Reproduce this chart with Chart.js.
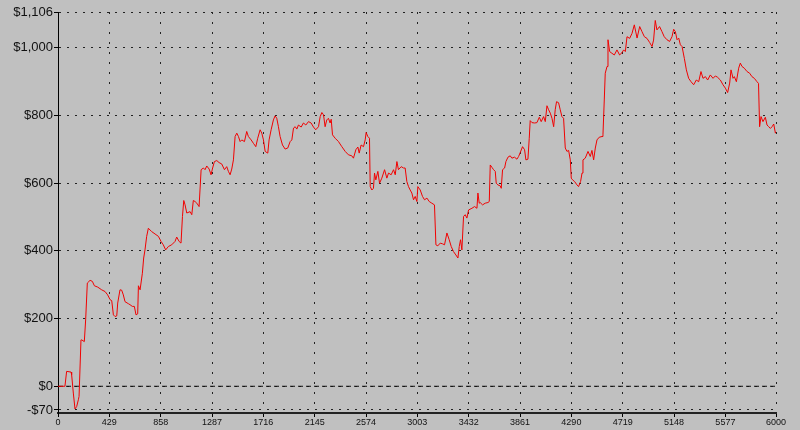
<!DOCTYPE html>
<html>
<head>
<meta charset="utf-8">
<title>Equity curve</title>
<script src="https://cdn.jsdelivr.net/npm/chart.js@4.4.0/dist/chart.umd.min.js"></script>
<style>
    html, body { margin: 0; padding: 0; background: #c0c0c0; }
    canvas { display: block; }
</style>
</head>
<body>
<canvas id="equityChart" width="800" height="430"></canvas>
<script>
// Trade number (x) and running equity in dollars (y)
const tradeNumbers = [
    0, 58, 72, 109, 114, 128, 142, 156, 170, 176, 192, 198, 220, 231, 245, 268, 287, 304, 332, 365,
    393, 415, 435, 449, 463, 477, 491, 499, 518, 532, 546, 560, 588, 602, 621, 638, 652, 666, 672, 686,
    705, 716, 727, 741, 755, 783, 811, 839, 861, 880, 900, 922, 950, 978, 992, 1012, 1028, 1040, 1051, 1062,
    1076, 1104, 1118, 1131, 1145, 1160, 1179, 1196, 1215, 1229, 1243, 1263, 1279, 1290, 1307, 1327, 1346, 1368, 1391, 1410,
    1424, 1438, 1452, 1466, 1480, 1494, 1508, 1522, 1536, 1558, 1577, 1591, 1614, 1633, 1653, 1669, 1689, 1703, 1717, 1731,
    1753, 1764, 1781, 1800, 1814, 1828, 1842, 1856, 1876, 1898, 1920, 1940, 1954, 1968, 1982, 1996, 2009, 2032, 2051, 2071,
    2093, 2115, 2135, 2154, 2177, 2191, 2205, 2219, 2232, 2246, 2260, 2274, 2283, 2294, 2316, 2344, 2372, 2400, 2427, 2455,
    2469, 2489, 2506, 2517, 2533, 2553, 2567, 2575, 2589, 2603, 2609, 2623, 2636, 2645, 2656, 2673, 2687, 2706, 2729, 2748,
    2762, 2784, 2804, 2818, 2832, 2845, 2868, 2887, 2901, 2915, 2929, 2943, 2957, 2971, 2985, 2999, 3007, 3027, 3046, 3063,
    3083, 3102, 3124, 3146, 3158, 3174, 3194, 3213, 3230, 3250, 3269, 3286, 3305, 3325, 3342, 3353, 3364, 3375, 3389, 3403,
    3417, 3431, 3459, 3481, 3501, 3509, 3520, 3528, 3548, 3570, 3593, 3604, 3612, 3626, 3640, 3654, 3662, 3676, 3696, 3704,
    3715, 3732, 3743, 3760, 3779, 3793, 3815, 3835, 3849, 3863, 3882, 3899, 3910, 3927, 3938, 3946, 3961, 3983, 4002, 4022,
    4038, 4058, 4072, 4086, 4100, 4114, 4128, 4142, 4155, 4166, 4183, 4197, 4211, 4225, 4239, 4253, 4267, 4281, 4289, 4300,
    4317, 4337, 4350, 4367, 4379, 4387, 4406, 4429, 4448, 4462, 4476, 4490, 4504, 4523, 4546, 4554, 4565, 4573, 4588, 4596,
    4610, 4629, 4649, 4671, 4693, 4713, 4727, 4741, 4755, 4777, 4797, 4816, 4839, 4861, 4880, 4900, 4922, 4944, 4964, 4977,
    4991, 5005, 5027, 5047, 5066, 5089, 5111, 5131, 5145, 5159, 5173, 5187, 5201, 5215, 5234, 5251, 5270, 5290, 5312, 5334,
    5354, 5373, 5390, 5410, 5429, 5451, 5474, 5493, 5512, 5535, 5557, 5577, 5596, 5613, 5624, 5641, 5652, 5669, 5688, 5702,
    5716, 5735, 5758, 5780, 5799, 5819, 5841, 5854, 5863, 5875, 5891, 5911, 5925, 5939, 5953, 5967, 5981, 5995, 6000
];
const equityValues = [
    0, 0, 44, 42, 34, -20, -67, -60, -40, -30, 137, 137, 132, 196, 305, 313, 310, 297, 293, 285,
    280, 270, 256, 253, 211, 206, 208, 246, 285, 284, 270, 250, 244, 241, 236, 236, 211, 214, 297, 285,
    334, 379, 403, 443, 467, 457, 450, 443, 428, 418, 403, 413, 418, 428, 441, 428, 423, 502, 549, 536,
    512, 516, 507, 549, 546, 541, 531, 640, 645, 640, 651, 642, 625, 642, 664, 667, 661, 657, 640, 649,
    635, 625, 642, 669, 738, 748, 738, 723, 728, 723, 753, 738, 728, 718, 708, 733, 758, 748, 728, 694,
    689, 728, 758, 787, 799, 792, 767, 738, 713, 701, 704, 723, 728, 763, 767, 760, 772, 766, 778, 772,
    782, 778, 766, 758, 767, 797, 809, 802, 767, 787, 792, 778, 789, 743, 733, 723, 708, 694, 684, 681,
    674, 699, 707, 689, 713, 708, 728, 750, 738, 733, 590, 580, 585, 630, 610, 635, 600, 615, 640, 615,
    630, 625, 640, 625, 664, 640, 649, 645, 645, 605, 590, 580, 571, 551, 561, 546, 590, 580, 561, 551,
    556, 546, 541, 536, 418, 415, 423, 421, 418, 453, 433, 413, 398, 388, 379, 413, 433, 403, 502, 507,
    497, 521, 526, 531, 526, 571, 541, 543, 536, 541, 543, 546, 654, 647, 640, 635, 600, 595, 592, 585,
    640, 645, 664, 677, 681, 674, 677, 671, 679, 691, 708, 699, 669, 671, 733, 785, 779, 778, 779, 795,
    782, 797, 782, 829, 817, 807, 792, 767, 817, 841, 838, 817, 797, 792, 704, 694, 697, 669, 615, 610,
    605, 595, 590, 605, 630, 669, 674, 694, 679, 697, 669, 704, 728, 736, 738, 743, 846, 925, 945, 1024,
    989, 984, 979, 994, 979, 986, 994, 989, 1033, 1028, 1043, 1068, 1029, 1063, 1048, 1033, 1028, 1016, 1004, 1023,
    1081, 1053, 1063, 1048, 1033, 1024, 1019, 1033, 1055, 1048, 1024, 1029, 1009, 1004, 969, 935, 910, 900, 891, 905,
    900, 930, 910, 915, 905, 920, 910, 917, 913, 905, 891, 881, 868, 896, 935, 910, 915, 900, 940, 955,
    945, 940, 930, 925, 915, 910, 900, 895, 767, 797, 782, 795, 772, 767, 762, 767, 775, 748, 752
];

// Axis tick labels as shown on the chart
const xTickValues = [0, 429, 858, 1287, 1716, 2145, 2574, 3003, 3432, 3861, 4290, 4719, 5148, 5577, 6000];
const yTickValues = [-70, 0, 200, 400, 600, 800, 1000, 1106];
const zeroLineX = [0, 6000];
const zeroLineY = [0, 0];

const axisFont = 'Arial, "Liberation Sans", sans-serif';

function formatDollars(value) {
    const text = '$' + Math.abs(value).toLocaleString('en-US');
    return value < 0 ? '-' + text : text;
}

const equityPoints = tradeNumbers.map((x, i) => ({ x, y: equityValues[i] }));
const zeroPoints = zeroLineX.map((x, i) => ({ x, y: zeroLineY[i] }));

new Chart(document.getElementById('equityChart'), {
    type: 'line',
    data: {
        datasets: [
            {
                data: equityPoints,
                borderColor: '#f00000',
                borderWidth: 1,
                pointRadius: 0,
                tension: 0,
                fill: false
            },
            {
                // dashed line at $0
                data: zeroPoints,
                borderColor: '#111',
                borderWidth: 1,
                borderDash: [5, 3],
                pointRadius: 0,
                fill: false
            }
        ]
    },
    options: {
        responsive: false,
        animation: false,
        layout: { padding: { top: 12, right: 24, left: 0, bottom: 0 } },
        plugins: {
            legend: { display: false },
            tooltip: { enabled: false }
        },
        scales: {
            x: {
                type: 'linear',
                min: 0,
                max: 6000,
                afterBuildTicks: (scale) => { scale.ticks = xTickValues.map(v => ({ value: v })); },
                afterFit: (scale) => { scale.height = 17; },
                grid: {
                    color: '#222',
                    lineWidth: 1,
                    tickLength: 4,
                    tickColor: '#000',
                    tickBorderDash: []
                },
                border: { display: true, color: '#222', width: 2, dash: [2, 8] },
                ticks: {
                    autoSkip: false,
                    maxRotation: 0,
                    padding: 0,
                    color: '#111',
                    font: { family: axisFont, size: 9 },
                    callback: (value) => String(value)
                }
            },
            y: {
                min: -79,
                max: 1106,
                afterBuildTicks: (scale) => { scale.ticks = yTickValues.map(v => ({ value: v })); },
                afterFit: (scale) => { scale.width = 58; },
                grid: {
                    color: '#222',
                    lineWidth: 1,
                    tickLength: 4,
                    tickColor: '#000',
                    tickBorderDash: []
                },
                border: { display: true, color: '#000', width: 1, dash: [2, 6] },
                ticks: {
                    autoSkip: false,
                    padding: 1,
                    color: '#111',
                    font: { family: axisFont, size: 13 },
                    callback: (value) => formatDollars(value)
                }
            }
        }
    }
});
</script>
</body>
</html>
